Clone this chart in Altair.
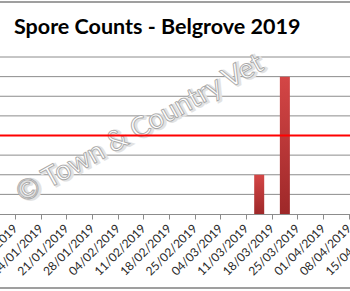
import altair as alt
import pandas as pd

weeks = ["07/01/2019", "14/01/2019", "21/01/2019", "28/01/2019", "04/02/2019",
         "11/02/2019", "18/02/2019", "25/02/2019", "04/03/2019", "11/03/2019",
         "18/03/2019", "25/03/2019", "01/04/2019", "08/04/2019", "15/04/2019",
         "22/04/2019"]
counts = [0, 0, 0, 0, 0, 0, 0, 0, 0, 0, 2, 7, 0, 0, 0, 0]
grid_levels = [1, 2, 3, 4, 5, 6, 7, 8]
threshold = [4]
title_text = ["Spore Counts - Belgrove 2019"]
watermark = ["© Town & Country Vet"]

df = pd.DataFrame({"week": weeks, "count": counts})
df_grid = pd.DataFrame({"level": grid_levels})
df_thr = pd.DataFrame({"level": threshold})
df_wm = pd.DataFrame({"t": watermark})
df_title = pd.DataFrame({"t": title_text})

GRID = "#8c8c8c"
step = 25.67
start = 2.5 - step / 2
xscale = alt.Scale(domain=weeks, range=[start, start + step * len(weeks)],
                   paddingInner=0, paddingOuter=0)
yscale = alt.Scale(domain=[0, 8], nice=False)

grad = alt.Gradient(gradient="linear",
                    stops=[alt.GradientStop(color="#d44646", offset=0),
                           alt.GradientStop(color="#9e2829", offset=1)],
                    x1=0, x2=0, y1=0, y2=1)

grid = alt.Chart(df_grid).mark_rule(color=GRID, strokeWidth=1).encode(
    y=alt.Y("level:Q", scale=yscale, axis=None),
    x=alt.value(0), x2=alt.value(350)
)

bars = alt.Chart(df).mark_bar(width=10, color=grad).encode(
    x=alt.X("week:N", scale=xscale, sort=weeks, title=None,
            axis=alt.Axis(bandPosition=0, labelOffset=step / 2, labelAngle=-45,
                          labelAlign="right", labelBaseline="middle",
                          labelFont="Lato", labelFontSize=12, labelColor="#2a2a2a",
                          labelPadding=7, tickColor=GRID, tickSize=5,
                          domainColor=GRID, labelOverlap=False)),
    y=alt.Y("count:Q", scale=yscale, title=None, axis=None),
)

thr = alt.Chart(df_thr).mark_rule(color="#ff0000", strokeWidth=2).encode(
    y=alt.Y("level:Q", scale=yscale, axis=None)
)

wm_shadow = alt.Chart(df_wm).mark_text(
    angle=331, fontSize=28, font="Lato", fill="#e2e2e2", stroke="#e2e2e2",
    strokeWidth=2.5, dx=1.5, dy=1.5
).encode(text="t:N", x=alt.value(140), y=alt.value(72))

wm = alt.Chart(df_wm).mark_text(
    angle=331, fontSize=28, font="Lato", fill="#ffffff", stroke="#a8a8a8",
    strokeWidth=0.9
).encode(text="t:N", x=alt.value(140), y=alt.value(72))

title = alt.Chart(df_title).mark_text(
    font="Lato", fontSize=21.5, fontWeight="bold", color="#000000",
    align="left", baseline="alphabetic"
).encode(text="t:N", x=alt.value(14), y=alt.value(-23))

border = alt.Chart(df_title).mark_rect(
    fill=None, stroke="#808080", strokeWidth=1.5, filled=False
).encode(
    x=alt.value(-20), x2=alt.value(370), y=alt.value(-55), y2=alt.value(231)
)

chart = alt.layer(grid, bars, wm_shadow, wm, thr, title, border).properties(
    width=350, height=157,
    padding={"left": 0, "top": 57, "right": 0, "bottom": 77},
    autosize=alt.AutoSizeParams(type="none"),
).configure_view(stroke=None)

chart.save("out.html", embed_options={"renderer": "svg", "actions": False})
